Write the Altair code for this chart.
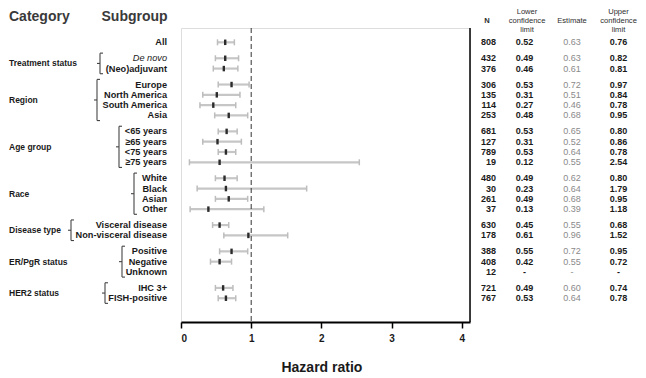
import altair as alt
import pandas as pd

# ---------------- data ----------------
subgroups = ["All", "De novo", "(Neo)adjuvant", "Europe", "North America", "South America", "Asia",
             "<65 years", "≥65 years", "<75 years", "≥75 years", "White", "Black", "Asian", "Other",
             "Visceral disease", "Non-visceral disease", "Positive", "Negative", "Unknown",
             "IHC 3+", "FISH-positive"]
group_of_row = [0, 1, 1, 2, 2, 2, 2, 3, 3, 3, 3, 4, 4, 4, 4, 5, 5, 6, 6, 6, 7, 7]
categories = ["Treatment status", "Region", "Age group", "Race", "Disease  type",
              "ER/PgR status", "HER2 status"]
n_patients = [808, 432, 376, 306, 135, 114, 253, 681, 127, 789, 19, 480, 30, 261, 37,
              630, 178, 388, 408, 12, 721, 767]
lower_cl = [0.52, 0.49, 0.46, 0.53, 0.31, 0.27, 0.48, 0.53, 0.31, 0.53, 0.12, 0.49, 0.23, 0.49, 0.13,
            0.45, 0.61, 0.55, 0.42, None, 0.49, 0.53]
estimate = [0.63, 0.63, 0.61, 0.72, 0.51, 0.46, 0.68, 0.65, 0.52, 0.64, 0.55, 0.62, 0.64, 0.68, 0.39,
            0.55, 0.96, 0.72, 0.55, None, 0.60, 0.64]
upper_cl = [0.76, 0.82, 0.81, 0.97, 0.84, 0.78, 0.95, 0.80, 0.86, 0.78, 2.54, 0.80, 1.79, 0.95, 1.18,
            0.68, 1.52, 0.95, 0.72, None, 0.74, 0.78]
x_ticks = [0, 1, 2, 3, 4]
reference_line = [1]

# ---------------- layout / style ----------------
GROUP_GAP = 0.55
W, H = 289, 294
FONT = "Liberation Sans"
TXT = "#1a1a1a"
HDR = "#2e2e2e"
brace_px = [-81, -84, -62, -47, -110, -59, -76]   # x of each brace (px, left of axis)

pos = [i + GROUP_GAP * g for i, g in enumerate(group_of_row)]


def fmt(v):
    return "-" if v is None else f"{v:.2f}"


df = pd.DataFrame({
    "sub": subgroups, "grp": group_of_row, "pos": pos, "n": [str(v) for v in n_patients],
    "lo": lower_cl, "est": estimate, "hi": upper_cl,
    "lo_t": [fmt(v) for v in lower_cl], "est_t": [fmt(v) for v in estimate],
    "hi_t": [fmt(v) for v in upper_cl],
})

cat_rows = []
for gi, name in enumerate(categories, start=1):
    p = [pp for pp, g in zip(pos, group_of_row) if g == gi]
    cat_rows.append({"cat": name, "mid": (min(p) + max(p)) / 2,
                     "top": min(p) - 0.5, "bot": max(p) + 0.5, "grp": gi})
cat_df = pd.DataFrame(cat_rows)

yscale = alt.Scale(domain=[-1.39, 27.16], reverse=True, nice=False, zero=False)
Y = alt.Y("pos:Q", scale=yscale,
          axis=alt.Axis(values=pos, labels=False, title=None, grid=False, tickSize=8,
                        tickWidth=1.5, tickColor="black", domainColor="black", domainWidth=2))
xscale = alt.Scale(domain=[0, W / 70.2], nice=False, zero=False)
xaxis = alt.Axis(values=x_ticks, grid=False, format="d", tickSize=6, tickWidth=1.5,
                 tickColor="black", domainColor="black", domainWidth=2,
                 labelFont=FONT, labelFontSize=10, labelFontWeight="bold", labelColor=TXT,
                 labelPadding=5, title="Hazard ratio", titleFont=FONT, titleFontSize=14,
                 titleFontWeight="bold", titleColor=TXT, titleX=2 * 70.2, titleY=45,
                 titleBaseline="middle", titleAlign="center")

base = alt.Chart(df)

bars = base.mark_rule(color="#c6c6c6", strokeWidth=2.2).encode(
    x=alt.X("lo:Q", scale=xscale, axis=xaxis), x2="hi:Q", y=Y)
cap_lo = base.mark_tick(orient="vertical", size=6, thickness=1.5, color="#bdbdbd", opacity=1).encode(
    x=alt.X("lo:Q", scale=xscale, axis=xaxis), y=Y)
cap_hi = base.mark_tick(orient="vertical", size=6, thickness=1.5, color="#bdbdbd", opacity=1).encode(
    x=alt.X("hi:Q", scale=xscale, axis=xaxis), y=Y)
points = base.mark_tick(orient="vertical", size=5.5, thickness=2.4, color="#2b2b2b", opacity=1).encode(
    x=alt.X("est:Q", scale=xscale, axis=xaxis), y=Y)

ref = alt.Chart(pd.DataFrame({"r": reference_line})).mark_rule(
    color="#333333", strokeWidth=1, strokeDash=[5, 3]).encode(
    x=alt.X("r:Q", scale=xscale, axis=xaxis))

right_border = alt.Chart(pd.DataFrame({"r": reference_line})).mark_rule(
    color="black", strokeWidth=1.5).encode(x=alt.value(W), y=alt.value(0), y2=alt.value(H))

sub_lbl = base.transform_filter(alt.datum.sub != "De novo").mark_text(
    align="right", baseline="middle", font=FONT, fontSize=9.2, fontWeight="bold", color=TXT
).encode(x=alt.value(-14), y=Y, text="sub:N")
sub_it = base.transform_filter(alt.datum.sub == "De novo").mark_text(
    align="right", baseline="middle", font=FONT, fontSize=9.2, fontStyle="italic", color=TXT
).encode(x=alt.value(-14), y=Y, text="sub:N")

cat_lbl = alt.Chart(cat_df).mark_text(
    align="left", baseline="middle", font=FONT, fontSize=8.5, fontWeight="bold", color=TXT
).encode(x=alt.value(-172), y=alt.Y("mid:Q", scale=yscale, axis=None), text="cat:N")

# braces
brace_layers = []
for gi, bx in enumerate(brace_px, start=1):
    g = alt.Chart(cat_df).transform_filter(alt.datum.grp == gi)
    st = dict(color="#444444", strokeWidth=1.1)
    brace_layers += [
        g.mark_rule(**st).encode(x=alt.value(bx), y=alt.Y("top:Q", scale=yscale, axis=None), y2="bot:Q"),
        g.mark_rule(**st).encode(x=alt.value(bx), x2=alt.value(bx + 3), y=alt.Y("top:Q", scale=yscale, axis=None)),
        g.mark_rule(**st).encode(x=alt.value(bx), x2=alt.value(bx + 3), y=alt.Y("bot:Q", scale=yscale, axis=None)),
        g.mark_rule(**st).encode(x=alt.value(bx - 3), x2=alt.value(bx), y=alt.Y("mid:Q", scale=yscale, axis=None)),
    ]


# table columns
def col(field, xpx, align, color=TXT, weight="bold"):
    return base.mark_text(align=align, baseline="middle", font=FONT, fontSize=9,
                          fontWeight=weight, color=color).encode(
        x=alt.value(xpx), y=Y, text=f"{field}:N")


table = [col("n", 315, "right"), col("lo_t", 343.5, "center"),
         col("est_t", 391, "center", color="#8a8a8a", weight="normal"),
         col("hi_t", 437.5, "center")]

# headers
headers = [
    ("Category", -172, -11, "left", 14, "bold", "#3a3a3a"),
    ("Subgroup", -79.5, -11, "left", 14, "bold", "#3a3a3a"),
    ("N", 306, -7, "center", 7.6, "bold", HDR),
    ("Lower", 346, -16, "center", 7.6, "normal", HDR),
    ("confidence", 346, -7, "center", 7.6, "normal", HDR),
    ("limit", 346, 2, "center", 7.6, "normal", HDR),
    ("Estimate", 391, -7, "center", 7.6, "normal", HDR),
    ("Upper", 437.5, -16, "center", 7.6, "normal", HDR),
    ("confidence", 437.5, -7, "center", 7.6, "normal", HDR),
    ("limit", 437.5, 2, "center", 7.6, "normal", HDR),
]
header_layers = []
for t, hx, hy, al, fs, fw, c in headers:
    header_layers.append(
        alt.Chart(pd.DataFrame({"t": [t]})).mark_text(
            align=al, baseline="middle", font=FONT, fontSize=fs, fontWeight=fw, color=c
        ).encode(x=alt.value(hx), y=alt.value(hy), text="t:N"))

chart = alt.layer(
    bars, cap_lo, cap_hi, ref, points, right_border, sub_lbl, sub_it, cat_lbl,
    *brace_layers, *table, *header_layers
).properties(
    width=W, height=H,
    autosize=alt.AutoSizeParams(type="none"),
    padding={"left": 173, "top": 20, "right": 168, "bottom": 56},
).configure_view(stroke=None).configure(background="white")

chart.save("out.html", embed_options={"renderer": "svg", "actions": False})
